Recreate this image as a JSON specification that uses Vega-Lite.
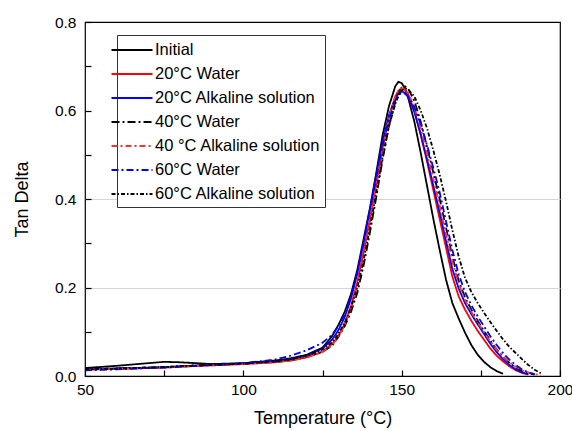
{
  "$schema": "https://vega.github.io/schema/vega-lite/v6.json",
  "autosize": "none",
  "width": 475,
  "height": 354,
  "padding": {"left": 85, "top": 22, "right": 12, "bottom": 55},
  "background": "white",
  "config": {
    "view": {"stroke": "black", "strokeWidth": 1.2},
    "font": "Liberation Sans"
  },
  "data": {"values": [
      {"s":"Initial","t":50,"v":0.018},{"s":"Initial","t":60,"v":0.023},{"s":"Initial","t":70,"v":0.029},{"s":"Initial","t":75,"v":0.032},{"s":"Initial","t":80,"v":0.031},{"s":"Initial","t":90,"v":0.027},{"s":"Initial","t":100,"v":0.029},{"s":"Initial","t":110,"v":0.035},{"s":"Initial","t":115,"v":0.04},{"s":"Initial","t":120,"v":0.048},{"s":"Initial","t":125,"v":0.064},{"s":"Initial","t":128,"v":0.09},{"s":"Initial","t":130,"v":0.115},{"s":"Initial","t":132,"v":0.145},{"s":"Initial","t":134,"v":0.185},{"s":"Initial","t":136,"v":0.24},{"s":"Initial","t":138,"v":0.31},{"s":"Initial","t":140,"v":0.38},{"s":"Initial","t":142,"v":0.46},{"s":"Initial","t":144,"v":0.545},{"s":"Initial","t":146,"v":0.61},{"s":"Initial","t":148,"v":0.655},{"s":"Initial","t":149,"v":0.665},{"s":"Initial","t":150,"v":0.662},{"s":"Initial","t":151,"v":0.65},{"s":"Initial","t":152,"v":0.63},{"s":"Initial","t":154,"v":0.575},{"s":"Initial","t":156,"v":0.505},{"s":"Initial","t":158,"v":0.43},{"s":"Initial","t":160,"v":0.355},{"s":"Initial","t":162,"v":0.285},{"s":"Initial","t":164,"v":0.218},{"s":"Initial","t":166,"v":0.165},{"s":"Initial","t":168,"v":0.13},{"s":"Initial","t":170,"v":0.098},{"s":"Initial","t":172,"v":0.07},{"s":"Initial","t":174,"v":0.048},{"s":"Initial","t":176,"v":0.032},{"s":"Initial","t":178,"v":0.02},{"s":"Initial","t":180,"v":0.011},{"s":"Initial","t":182,"v":0.005},

      {"s":"20°C Water","t":50,"v":0.014},{"s":"20°C Water","t":60,"v":0.016},{"s":"20°C Water","t":70,"v":0.018},{"s":"20°C Water","t":75,"v":0.019},{"s":"20°C Water","t":80,"v":0.021},{"s":"20°C Water","t":90,"v":0.024},{"s":"20°C Water","t":100,"v":0.027},{"s":"20°C Water","t":110,"v":0.031},{"s":"20°C Water","t":115,"v":0.035},{"s":"20°C Water","t":120,"v":0.042},{"s":"20°C Water","t":125,"v":0.055},{"s":"20°C Water","t":128,"v":0.072},{"s":"20°C Water","t":130,"v":0.09},{"s":"20°C Water","t":132,"v":0.118},{"s":"20°C Water","t":134,"v":0.158},{"s":"20°C Water","t":136,"v":0.212},{"s":"20°C Water","t":138,"v":0.28},{"s":"20°C Water","t":140,"v":0.355},{"s":"20°C Water","t":142,"v":0.435},{"s":"20°C Water","t":144,"v":0.515},{"s":"20°C Water","t":146,"v":0.585},{"s":"20°C Water","t":148,"v":0.632},{"s":"20°C Water","t":149,"v":0.645},{"s":"20°C Water","t":150,"v":0.65},{"s":"20°C Water","t":151,"v":0.647},{"s":"20°C Water","t":152,"v":0.638},{"s":"20°C Water","t":154,"v":0.6},{"s":"20°C Water","t":156,"v":0.545},{"s":"20°C Water","t":158,"v":0.485},{"s":"20°C Water","t":160,"v":0.42},{"s":"20°C Water","t":162,"v":0.355},{"s":"20°C Water","t":164,"v":0.29},{"s":"20°C Water","t":166,"v":0.225},{"s":"20°C Water","t":168,"v":0.18},{"s":"20°C Water","t":170,"v":0.15},{"s":"20°C Water","t":172,"v":0.125},{"s":"20°C Water","t":174,"v":0.102},{"s":"20°C Water","t":176,"v":0.082},{"s":"20°C Water","t":178,"v":0.062},{"s":"20°C Water","t":180,"v":0.046},{"s":"20°C Water","t":182,"v":0.033},{"s":"20°C Water","t":184,"v":0.022},{"s":"20°C Water","t":186,"v":0.013},{"s":"20°C Water","t":188,"v":0.007},{"s":"20°C Water","t":190,"v":0.003},

      {"s":"20°C Alkaline solution","t":50,"v":0.015},{"s":"20°C Alkaline solution","t":60,"v":0.017},{"s":"20°C Alkaline solution","t":70,"v":0.019},{"s":"20°C Alkaline solution","t":75,"v":0.02},{"s":"20°C Alkaline solution","t":80,"v":0.022},{"s":"20°C Alkaline solution","t":90,"v":0.025},{"s":"20°C Alkaline solution","t":100,"v":0.028},{"s":"20°C Alkaline solution","t":110,"v":0.033},{"s":"20°C Alkaline solution","t":115,"v":0.038},{"s":"20°C Alkaline solution","t":120,"v":0.046},{"s":"20°C Alkaline solution","t":125,"v":0.062},{"s":"20°C Alkaline solution","t":128,"v":0.082},{"s":"20°C Alkaline solution","t":130,"v":0.103},{"s":"20°C Alkaline solution","t":132,"v":0.133},{"s":"20°C Alkaline solution","t":134,"v":0.175},{"s":"20°C Alkaline solution","t":136,"v":0.232},{"s":"20°C Alkaline solution","t":138,"v":0.302},{"s":"20°C Alkaline solution","t":140,"v":0.378},{"s":"20°C Alkaline solution","t":142,"v":0.455},{"s":"20°C Alkaline solution","t":144,"v":0.53},{"s":"20°C Alkaline solution","t":146,"v":0.59},{"s":"20°C Alkaline solution","t":148,"v":0.628},{"s":"20°C Alkaline solution","t":149,"v":0.638},{"s":"20°C Alkaline solution","t":150,"v":0.643},{"s":"20°C Alkaline solution","t":151,"v":0.64},{"s":"20°C Alkaline solution","t":152,"v":0.632},{"s":"20°C Alkaline solution","t":154,"v":0.597},{"s":"20°C Alkaline solution","t":156,"v":0.547},{"s":"20°C Alkaline solution","t":158,"v":0.49},{"s":"20°C Alkaline solution","t":160,"v":0.43},{"s":"20°C Alkaline solution","t":162,"v":0.37},{"s":"20°C Alkaline solution","t":164,"v":0.305},{"s":"20°C Alkaline solution","t":166,"v":0.242},{"s":"20°C Alkaline solution","t":168,"v":0.198},{"s":"20°C Alkaline solution","t":170,"v":0.165},{"s":"20°C Alkaline solution","t":172,"v":0.14},{"s":"20°C Alkaline solution","t":174,"v":0.117},{"s":"20°C Alkaline solution","t":176,"v":0.095},{"s":"20°C Alkaline solution","t":178,"v":0.073},{"s":"20°C Alkaline solution","t":180,"v":0.054},{"s":"20°C Alkaline solution","t":182,"v":0.038},{"s":"20°C Alkaline solution","t":184,"v":0.025},{"s":"20°C Alkaline solution","t":186,"v":0.015},{"s":"20°C Alkaline solution","t":188,"v":0.008},{"s":"20°C Alkaline solution","t":190,"v":0.004},

      {"s":"40°C Water","t":50,"v":0.015},{"s":"40°C Water","t":60,"v":0.017},{"s":"40°C Water","t":70,"v":0.019},{"s":"40°C Water","t":75,"v":0.02},{"s":"40°C Water","t":80,"v":0.022},{"s":"40°C Water","t":90,"v":0.025},{"s":"40°C Water","t":100,"v":0.028},{"s":"40°C Water","t":110,"v":0.032},{"s":"40°C Water","t":115,"v":0.036},{"s":"40°C Water","t":120,"v":0.043},{"s":"40°C Water","t":125,"v":0.055},{"s":"40°C Water","t":128,"v":0.068},{"s":"40°C Water","t":130,"v":0.088},{"s":"40°C Water","t":132,"v":0.112},{"s":"40°C Water","t":134,"v":0.145},{"s":"40°C Water","t":136,"v":0.188},{"s":"40°C Water","t":138,"v":0.25},{"s":"40°C Water","t":140,"v":0.325},{"s":"40°C Water","t":142,"v":0.405},{"s":"40°C Water","t":144,"v":0.49},{"s":"40°C Water","t":146,"v":0.565},{"s":"40°C Water","t":148,"v":0.62},{"s":"40°C Water","t":149,"v":0.64},{"s":"40°C Water","t":150,"v":0.652},{"s":"40°C Water","t":151,"v":0.655},{"s":"40°C Water","t":152,"v":0.65},{"s":"40°C Water","t":154,"v":0.622},{"s":"40°C Water","t":156,"v":0.575},{"s":"40°C Water","t":158,"v":0.518},{"s":"40°C Water","t":160,"v":0.46},{"s":"40°C Water","t":162,"v":0.4},{"s":"40°C Water","t":164,"v":0.335},{"s":"40°C Water","t":166,"v":0.27},{"s":"40°C Water","t":168,"v":0.215},{"s":"40°C Water","t":170,"v":0.178},{"s":"40°C Water","t":172,"v":0.15},{"s":"40°C Water","t":174,"v":0.125},{"s":"40°C Water","t":176,"v":0.102},{"s":"40°C Water","t":178,"v":0.08},{"s":"40°C Water","t":180,"v":0.06},{"s":"40°C Water","t":182,"v":0.044},{"s":"40°C Water","t":184,"v":0.03},{"s":"40°C Water","t":186,"v":0.019},{"s":"40°C Water","t":188,"v":0.011},{"s":"40°C Water","t":190,"v":0.006},{"s":"40°C Water","t":192,"v":0.003},

      {"s":"40 °C Alkaline solution","t":50,"v":0.014},{"s":"40 °C Alkaline solution","t":60,"v":0.016},{"s":"40 °C Alkaline solution","t":70,"v":0.018},{"s":"40 °C Alkaline solution","t":75,"v":0.019},{"s":"40 °C Alkaline solution","t":80,"v":0.021},{"s":"40 °C Alkaline solution","t":90,"v":0.024},{"s":"40 °C Alkaline solution","t":100,"v":0.027},{"s":"40 °C Alkaline solution","t":110,"v":0.031},{"s":"40 °C Alkaline solution","t":115,"v":0.035},{"s":"40 °C Alkaline solution","t":120,"v":0.042},{"s":"40 °C Alkaline solution","t":125,"v":0.054},{"s":"40 °C Alkaline solution","t":128,"v":0.07},{"s":"40 °C Alkaline solution","t":130,"v":0.088},{"s":"40 °C Alkaline solution","t":132,"v":0.115},{"s":"40 °C Alkaline solution","t":134,"v":0.153},{"s":"40 °C Alkaline solution","t":136,"v":0.205},{"s":"40 °C Alkaline solution","t":138,"v":0.272},{"s":"40 °C Alkaline solution","t":140,"v":0.35},{"s":"40 °C Alkaline solution","t":142,"v":0.432},{"s":"40 °C Alkaline solution","t":144,"v":0.515},{"s":"40 °C Alkaline solution","t":146,"v":0.585},{"s":"40 °C Alkaline solution","t":148,"v":0.632},{"s":"40 °C Alkaline solution","t":149,"v":0.645},{"s":"40 °C Alkaline solution","t":150,"v":0.65},{"s":"40 °C Alkaline solution","t":151,"v":0.648},{"s":"40 °C Alkaline solution","t":152,"v":0.64},{"s":"40 °C Alkaline solution","t":154,"v":0.608},{"s":"40 °C Alkaline solution","t":156,"v":0.56},{"s":"40 °C Alkaline solution","t":158,"v":0.503},{"s":"40 °C Alkaline solution","t":160,"v":0.445},{"s":"40 °C Alkaline solution","t":162,"v":0.385},{"s":"40 °C Alkaline solution","t":164,"v":0.322},{"s":"40 °C Alkaline solution","t":166,"v":0.26},{"s":"40 °C Alkaline solution","t":168,"v":0.208},{"s":"40 °C Alkaline solution","t":170,"v":0.172},{"s":"40 °C Alkaline solution","t":172,"v":0.145},{"s":"40 °C Alkaline solution","t":174,"v":0.121},{"s":"40 °C Alkaline solution","t":176,"v":0.099},{"s":"40 °C Alkaline solution","t":178,"v":0.078},{"s":"40 °C Alkaline solution","t":180,"v":0.059},{"s":"40 °C Alkaline solution","t":182,"v":0.044},{"s":"40 °C Alkaline solution","t":184,"v":0.031},{"s":"40 °C Alkaline solution","t":186,"v":0.021},{"s":"40 °C Alkaline solution","t":188,"v":0.013},{"s":"40 °C Alkaline solution","t":190,"v":0.008},{"s":"40 °C Alkaline solution","t":192,"v":0.004},{"s":"40 °C Alkaline solution","t":194,"v":0.002},

      {"s":"60°C Water","t":50,"v":0.013},{"s":"60°C Water","t":60,"v":0.015},{"s":"60°C Water","t":70,"v":0.018},{"s":"60°C Water","t":75,"v":0.019},{"s":"60°C Water","t":80,"v":0.021},{"s":"60°C Water","t":90,"v":0.025},{"s":"60°C Water","t":100,"v":0.029},{"s":"60°C Water","t":110,"v":0.037},{"s":"60°C Water","t":115,"v":0.046},{"s":"60°C Water","t":120,"v":0.058},{"s":"60°C Water","t":125,"v":0.075},{"s":"60°C Water","t":128,"v":0.093},{"s":"60°C Water","t":130,"v":0.112},{"s":"60°C Water","t":132,"v":0.14},{"s":"60°C Water","t":134,"v":0.18},{"s":"60°C Water","t":136,"v":0.235},{"s":"60°C Water","t":138,"v":0.302},{"s":"60°C Water","t":140,"v":0.375},{"s":"60°C Water","t":142,"v":0.45},{"s":"60°C Water","t":144,"v":0.522},{"s":"60°C Water","t":146,"v":0.58},{"s":"60°C Water","t":148,"v":0.622},{"s":"60°C Water","t":149,"v":0.635},{"s":"60°C Water","t":150,"v":0.64},{"s":"60°C Water","t":151,"v":0.638},{"s":"60°C Water","t":152,"v":0.632},{"s":"60°C Water","t":154,"v":0.608},{"s":"60°C Water","t":156,"v":0.57},{"s":"60°C Water","t":158,"v":0.522},{"s":"60°C Water","t":160,"v":0.47},{"s":"60°C Water","t":162,"v":0.415},{"s":"60°C Water","t":164,"v":0.35},{"s":"60°C Water","t":166,"v":0.285},{"s":"60°C Water","t":168,"v":0.23},{"s":"60°C Water","t":170,"v":0.19},{"s":"60°C Water","t":172,"v":0.16},{"s":"60°C Water","t":174,"v":0.135},{"s":"60°C Water","t":176,"v":0.112},{"s":"60°C Water","t":178,"v":0.09},{"s":"60°C Water","t":180,"v":0.07},{"s":"60°C Water","t":182,"v":0.052},{"s":"60°C Water","t":184,"v":0.037},{"s":"60°C Water","t":186,"v":0.025},{"s":"60°C Water","t":188,"v":0.015},{"s":"60°C Water","t":190,"v":0.008},{"s":"60°C Water","t":192,"v":0.004},

      {"s":"60°C Alkaline solution","t":50,"v":0.015},{"s":"60°C Alkaline solution","t":60,"v":0.017},{"s":"60°C Alkaline solution","t":70,"v":0.019},{"s":"60°C Alkaline solution","t":75,"v":0.02},{"s":"60°C Alkaline solution","t":80,"v":0.022},{"s":"60°C Alkaline solution","t":90,"v":0.025},{"s":"60°C Alkaline solution","t":100,"v":0.028},{"s":"60°C Alkaline solution","t":110,"v":0.033},{"s":"60°C Alkaline solution","t":115,"v":0.038},{"s":"60°C Alkaline solution","t":120,"v":0.046},{"s":"60°C Alkaline solution","t":125,"v":0.06},{"s":"60°C Alkaline solution","t":128,"v":0.076},{"s":"60°C Alkaline solution","t":130,"v":0.095},{"s":"60°C Alkaline solution","t":132,"v":0.12},{"s":"60°C Alkaline solution","t":134,"v":0.155},{"s":"60°C Alkaline solution","t":136,"v":0.2},{"s":"60°C Alkaline solution","t":138,"v":0.262},{"s":"60°C Alkaline solution","t":140,"v":0.335},{"s":"60°C Alkaline solution","t":142,"v":0.415},{"s":"60°C Alkaline solution","t":144,"v":0.495},{"s":"60°C Alkaline solution","t":146,"v":0.565},{"s":"60°C Alkaline solution","t":148,"v":0.615},{"s":"60°C Alkaline solution","t":149,"v":0.633},{"s":"60°C Alkaline solution","t":150,"v":0.645},{"s":"60°C Alkaline solution","t":151,"v":0.65},{"s":"60°C Alkaline solution","t":152,"v":0.648},{"s":"60°C Alkaline solution","t":154,"v":0.632},{"s":"60°C Alkaline solution","t":156,"v":0.6},{"s":"60°C Alkaline solution","t":158,"v":0.56},{"s":"60°C Alkaline solution","t":160,"v":0.51},{"s":"60°C Alkaline solution","t":162,"v":0.455},{"s":"60°C Alkaline solution","t":164,"v":0.395},{"s":"60°C Alkaline solution","t":166,"v":0.33},{"s":"60°C Alkaline solution","t":168,"v":0.27},{"s":"60°C Alkaline solution","t":170,"v":0.222},{"s":"60°C Alkaline solution","t":172,"v":0.19},{"s":"60°C Alkaline solution","t":174,"v":0.165},{"s":"60°C Alkaline solution","t":176,"v":0.143},{"s":"60°C Alkaline solution","t":178,"v":0.122},{"s":"60°C Alkaline solution","t":180,"v":0.102},{"s":"60°C Alkaline solution","t":182,"v":0.083},{"s":"60°C Alkaline solution","t":184,"v":0.066},{"s":"60°C Alkaline solution","t":186,"v":0.052},{"s":"60°C Alkaline solution","t":188,"v":0.038},{"s":"60°C Alkaline solution","t":190,"v":0.025},{"s":"60°C Alkaline solution","t":192,"v":0.014},{"s":"60°C Alkaline solution","t":194,"v":0.006}
  ]},
  "mark": {"type": "line", "clip": true},
  "encoding": {
    "x": {
      "field": "t", "type": "quantitative",
      "scale": {"domain": [50, 200], "nice": false, "zero": false},
      "axis": {
        "title": "Temperature (°C)",
        "values": [50, 75, 100, 125, 150, 175, 200],
        "labelExpr": "datum.value % 50 == 0 ? datum.label : ''",
        "offset": -6, "tickSize": 6, "domain": false,
        "tickColor": "#000000", "tickWidth": 1.2,
        "grid": false, "labelFont": "Liberation Sans", "labelFontSize": 15.5, "labelColor": "black",
        "labelPadding": 6, "labelFlush": false,
        "titleFont": "Liberation Sans", "titleFontSize": 18, "titleFontWeight": "normal", "titleColor": "black", "titlePadding": 12
      }
    },
    "y": {
      "field": "v", "type": "quantitative",
      "scale": {"domain": [0, 0.8], "nice": false},
      "axis": {
        "title": "Tan Delta",
        "values": [0, 0.1, 0.2, 0.3, 0.4, 0.5, 0.6, 0.7, 0.8],
        "labelExpr": "round(datum.value * 10) % 2 == 0 ? format(datum.value, '.1f') : ''",
        "offset": -6, "tickSize": 6, "domain": false,
        "tickColor": "#000000", "tickWidth": 1.2,
        "grid": true, "gridColor": "#d4d4d4", "gridWidth": 1,
        "gridOpacity": {"condition": {"test": "datum.value == 0.2 || datum.value == 0.4", "value": 1}, "value": 0},
        "labelFont": "Liberation Sans", "labelFontSize": 15.5, "labelColor": "black",
        "labelPadding": 9, "labelFlush": false,
        "titleFont": "Liberation Sans", "titleFontSize": 18, "titleFontWeight": "normal", "titleColor": "black", "titlePadding": 23
      }
    },
    "color": {
      "field": "s", "type": "nominal",
      "scale": {
        "domain": ["Initial", "20°C Water", "20°C Alkaline solution", "40°C Water", "40 °C Alkaline solution", "60°C Water", "60°C Alkaline solution"],
        "range": ["#000000", "#ff0000", "#0000ff", "#000000", "#ff3030", "#0000ff", "#000000"]
      },
      "legend": {
        "title": null,
        "orient": "none", "legendX": 32, "legendY": 13,
        "direction": "vertical",
        "strokeColor": "#333333", "fillColor": "white", "padding": 4,
        "symbolType": "M-2.05,0H2.05", "symbolSize": 400, "symbolStrokeWidth": 1.8,
        "labelFont": "Liberation Sans", "labelFontSize": 16.5, "labelColor": "black", "labelOffset": 12,
        "rowPadding": 4, "labelLimit": 400
      }
    },
    "strokeDash": {
      "field": "s", "type": "nominal",
      "scale": {
        "domain": ["Initial", "20°C Water", "20°C Alkaline solution", "40°C Water", "40 °C Alkaline solution", "60°C Water", "60°C Alkaline solution"],
        "range": [[1, 0], [1, 0], [1, 0], [8, 3, 2, 3], [6, 3, 2, 3], [7, 3, 2, 3], [4, 2, 1.5, 2]]
      }
    },
    "strokeWidth": {
      "field": "s", "type": "nominal",
      "scale": {
        "domain": ["Initial", "20°C Water", "20°C Alkaline solution", "40°C Water", "40 °C Alkaline solution", "60°C Water", "60°C Alkaline solution"],
        "range": [1.8, 1.8, 1.5, 1.5, 1.3, 2, 1.4]
      }
    }
  }
}
